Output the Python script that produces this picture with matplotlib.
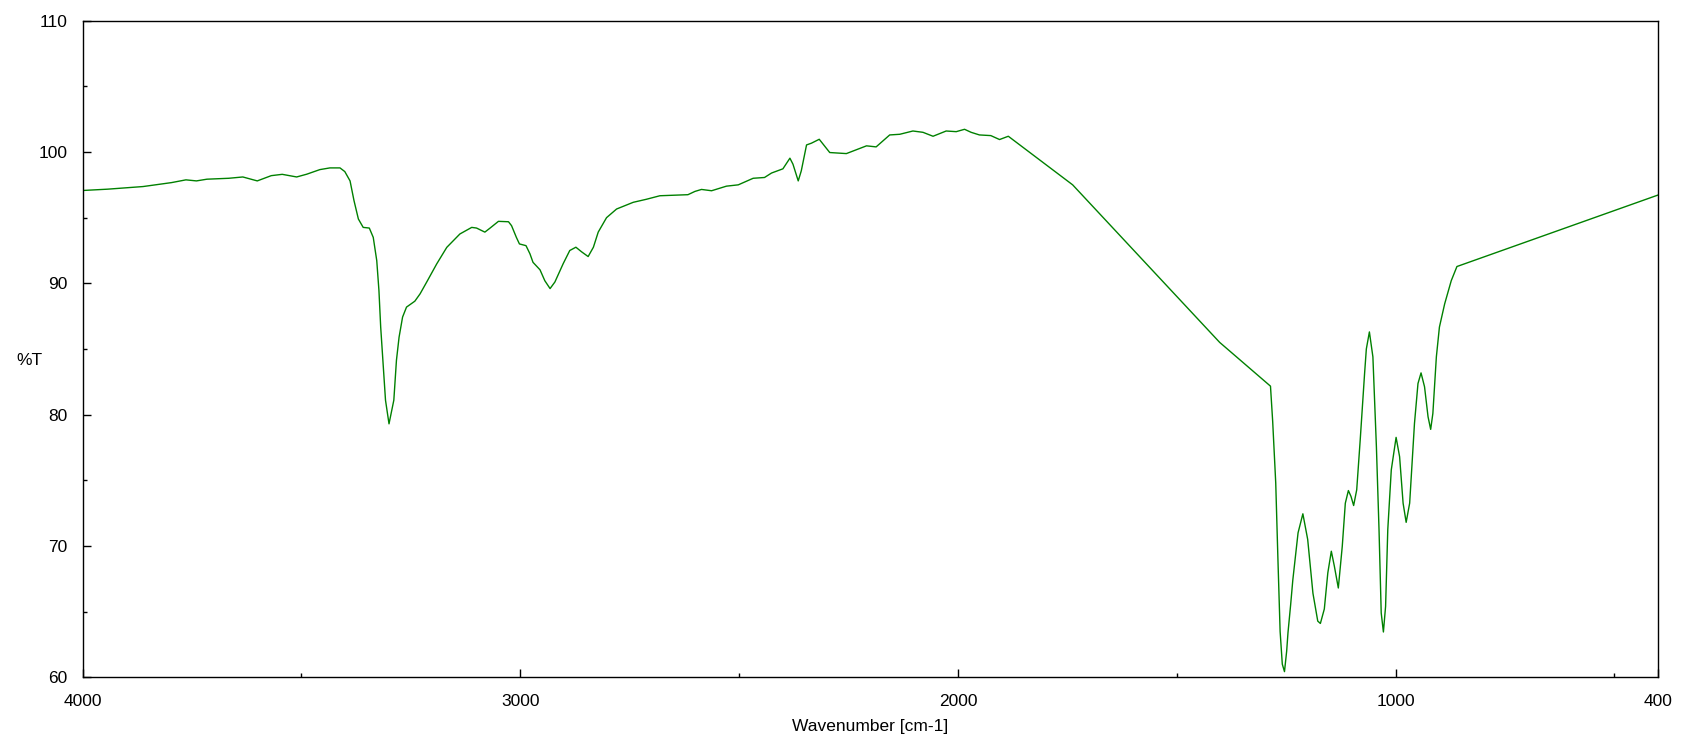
import numpy as np
import matplotlib
matplotlib.use('Agg')
from matplotlib import pyplot as plt
from matplotlib.ticker import MultipleLocator, FixedLocator

# IR spectrum: wavenumber (cm-1) and %T
wavenumber = [4000, 3943, 3862, 3797, 3764, 3740, 3716, 3666, 3634, 3601,
              3569, 3544, 3511, 3488, 3458, 3435, 3412, 3401, 3389, 3380,
              3370, 3359, 3345, 3336, 3328, 3323, 3319, 3314, 3308, 3300,
              3289, 3283, 3277, 3269, 3260, 3241, 3229, 3214, 3191, 3168,
              3138, 3111, 3100, 3081, 3069, 3050, 3027, 3020, 3009, 3002,
              2987, 2978, 2971, 2955, 2944, 2932, 2921, 2902, 2887, 2873,
              2860, 2845, 2833, 2822, 2803, 2780, 2742, 2712, 2681, 2617,
              2601, 2586, 2563, 2529, 2502, 2468, 2442, 2426, 2400, 2384,
              2377, 2365, 2358, 2346, 2335, 2317, 2308, 2293, 2255, 2209,
              2187, 2156, 2133, 2103, 2080, 2057, 2027, 2004, 1985, 1970,
              1951, 1925, 1905, 1885, 1738, 1402, 1395, 1286,
              1281, 1274, 1269, 1264, 1259, 1254, 1249, 1246, 1240, 1235,
              1223, 1212, 1201, 1189, 1178, 1172, 1163, 1155, 1147, 1140,
              1131, 1122, 1115, 1108, 1102, 1096, 1089, 1081, 1071, 1067,
              1060, 1052, 1044, 1038, 1033, 1028, 1023, 1018, 1010, 999,
              991, 983, 976, 968, 957, 949, 942, 934, 926, 920,
              915, 907, 900, 888, 873, 860, 400]
transmittance = [97.07, 97.17, 97.37, 97.67, 97.88, 97.80, 97.93, 98.0, 98.1, 97.8,
                 98.2, 98.3, 98.1, 98.31, 98.66, 98.79, 98.79, 98.51, 97.8, 96.3,
                 94.9, 94.26, 94.21, 93.5, 91.73, 89.45, 86.67, 84.14, 81.1, 79.3,
                 81.1, 84.14, 85.9, 87.43, 88.19, 88.64, 89.2, 90.09, 91.48, 92.74,
                 93.76, 94.26, 94.21, 93.9, 94.21, 94.72, 94.69, 94.39, 93.5, 93.0,
                 92.87, 92.25, 91.6, 91.03, 90.2, 89.6, 90.1, 91.5, 92.5, 92.75,
                 92.4, 92.04, 92.75, 93.9, 95.0, 95.66, 96.17, 96.4, 96.67, 96.75,
                 97.0, 97.15, 97.05, 97.4, 97.5, 98.0, 98.06, 98.4, 98.72, 99.53,
                 99.07, 97.8, 98.57, 100.54, 100.67, 100.97, 100.59, 99.96, 99.88, 100.47,
                 100.39, 101.3, 101.35, 101.6, 101.5, 101.2, 101.6, 101.55, 101.73, 101.5,
                 101.3, 101.25, 100.95, 101.2, 97.5, 85.5, 85.3, 82.17,
                 79.5, 74.8, 69.0, 63.5, 61.0, 60.43, 62.0, 63.4, 65.5, 67.4,
                 71.0, 72.45, 70.5, 66.4, 64.28, 64.1, 65.2, 67.95, 69.6, 68.45,
                 66.8, 69.97, 73.26, 74.22, 73.77, 73.08, 74.27, 78.07, 83.13, 85.0,
                 86.3, 84.4, 77.56, 71.24, 64.9, 63.45, 65.4, 71.24, 75.79, 78.27,
                 76.8, 73.26, 71.8, 73.26, 79.33, 82.37, 83.18, 82.12, 79.84, 78.88,
                 80.09, 84.4, 86.67, 88.44, 90.2, 91.28, 96.73]

x_ticks = [4000, 3000, 2000, 1000, 400]
x_minor = [3500, 2500, 1500, 500]

plt.rcParams['font.family'] = ['Liberation Sans', 'DejaVu Sans']

fig = plt.figure(figsize=(16.83, 7.39), dpi=100)
ax = fig.add_axes([0.0491, 0.0835, 0.9362, 0.8885])

ax.plot(wavenumber, transmittance, color='#008000', lw=1.0)

ax.set_xlim(4000, 400)
ax.set_ylim(60, 110)
ax.xaxis.set_major_locator(FixedLocator(x_ticks))
ax.xaxis.set_minor_locator(FixedLocator(x_minor))
ax.yaxis.set_major_locator(MultipleLocator(10))
ax.yaxis.set_minor_locator(MultipleLocator(5))

ax.tick_params(which='both', direction='in', top=False, right=False,
               labelsize=12.5, width=1.0)
ax.tick_params(which='major', length=6)
ax.tick_params(which='minor', length=3)
ax.tick_params(axis='y', pad=11)
ax.tick_params(axis='x', pad=12)
for s in ax.spines.values():
    s.set_linewidth(1.0)

ax.set_xlabel('Wavenumber [cm-1]', fontsize=12.5, labelpad=7)
ax.text(-0.034, 0.483, '%T', transform=ax.transAxes, fontsize=12.5,
        ha='center', va='center')

fig.savefig('out.png', dpi=100)
